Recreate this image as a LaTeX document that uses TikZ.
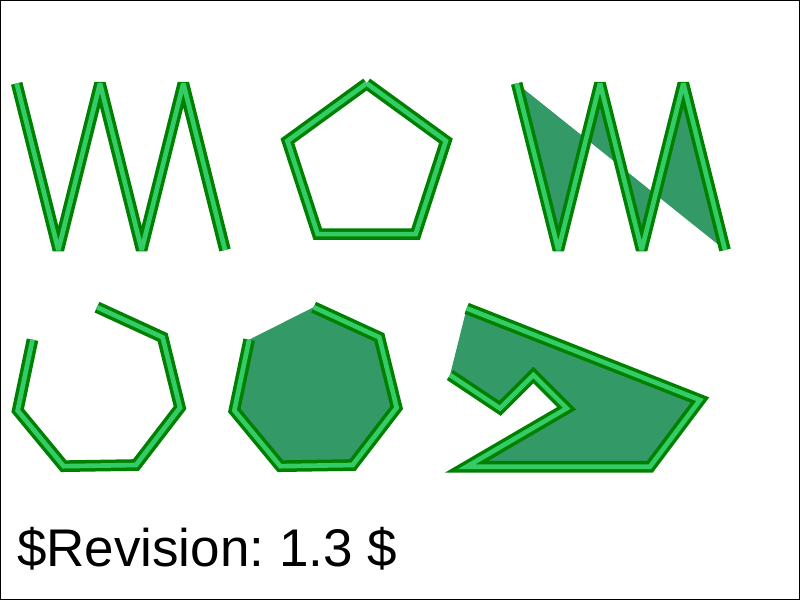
\documentclass[tikz,border=0pt]{standalone}
\usepackage{fontspec}
\setmainfont{Liberation Sans}
\definecolor{darkg}{RGB}{0,128,0}
\definecolor{lightg}{RGB}{51,204,102}
\definecolor{fillg}{RGB}{51,153,102}
\begin{document}
\begin{tikzpicture}[x=1pt,y=-1pt,line join=miter,miter limit=4,line cap=butt,
  dbl/.style={draw=lightg, line width=2.8pt, preaction={draw=darkg, line width=7pt}},
  dblfill/.style={draw=lightg, line width=2.8pt, preaction={draw=darkg, fill=fillg, line width=7pt}}]
\useasboundingbox (0,0) rectangle (480,360);
\draw[line width=0.6pt] (0.3,0.3) rectangle (479.7,359.7);
% zigzag
\draw[dbl] (10,50) -- (35,150) -- (60,50) -- (85,150) -- (110,50) -- (135,150);
% pentagon
\draw[dbl] (220,50) -- (267.55,84.55) -- (249.39,140.45) -- (190.61,140.45) -- (172.45,84.55) -- (220,50);
% filled zigzag
\draw[dblfill] (310,50) -- (335,150) -- (360,50) -- (385,150) -- (410,50) -- (435,150);
% heptagon open
\draw[dbl] (19.5,203.8) -- (10.6,246.3) -- (38.2,279.7) -- (81.6,279.0) -- (108.0,244.6) -- (97.6,202.4) -- (58.2,184.3);
% heptagon filled
\draw[dblfill] (149.5,203.8) -- (140.6,246.3) -- (168.2,279.7) -- (211.6,279.0) -- (238.0,244.6) -- (227.6,202.4) -- (188.2,184.3);
% arrow-like shape
\draw[dblfill] (280,185) -- (420,240) -- (390,280) -- (280,280) -- (340,245) -- (320,225) -- (300,245) -- (270,225);
\node[anchor=base west, inner sep=0pt, font=\fontsize{31.8}{38}\selectfont\frenchspacing] (rev) at (10,340) {\$Revision: 1.3 \$};
\end{tikzpicture}
\end{document}
